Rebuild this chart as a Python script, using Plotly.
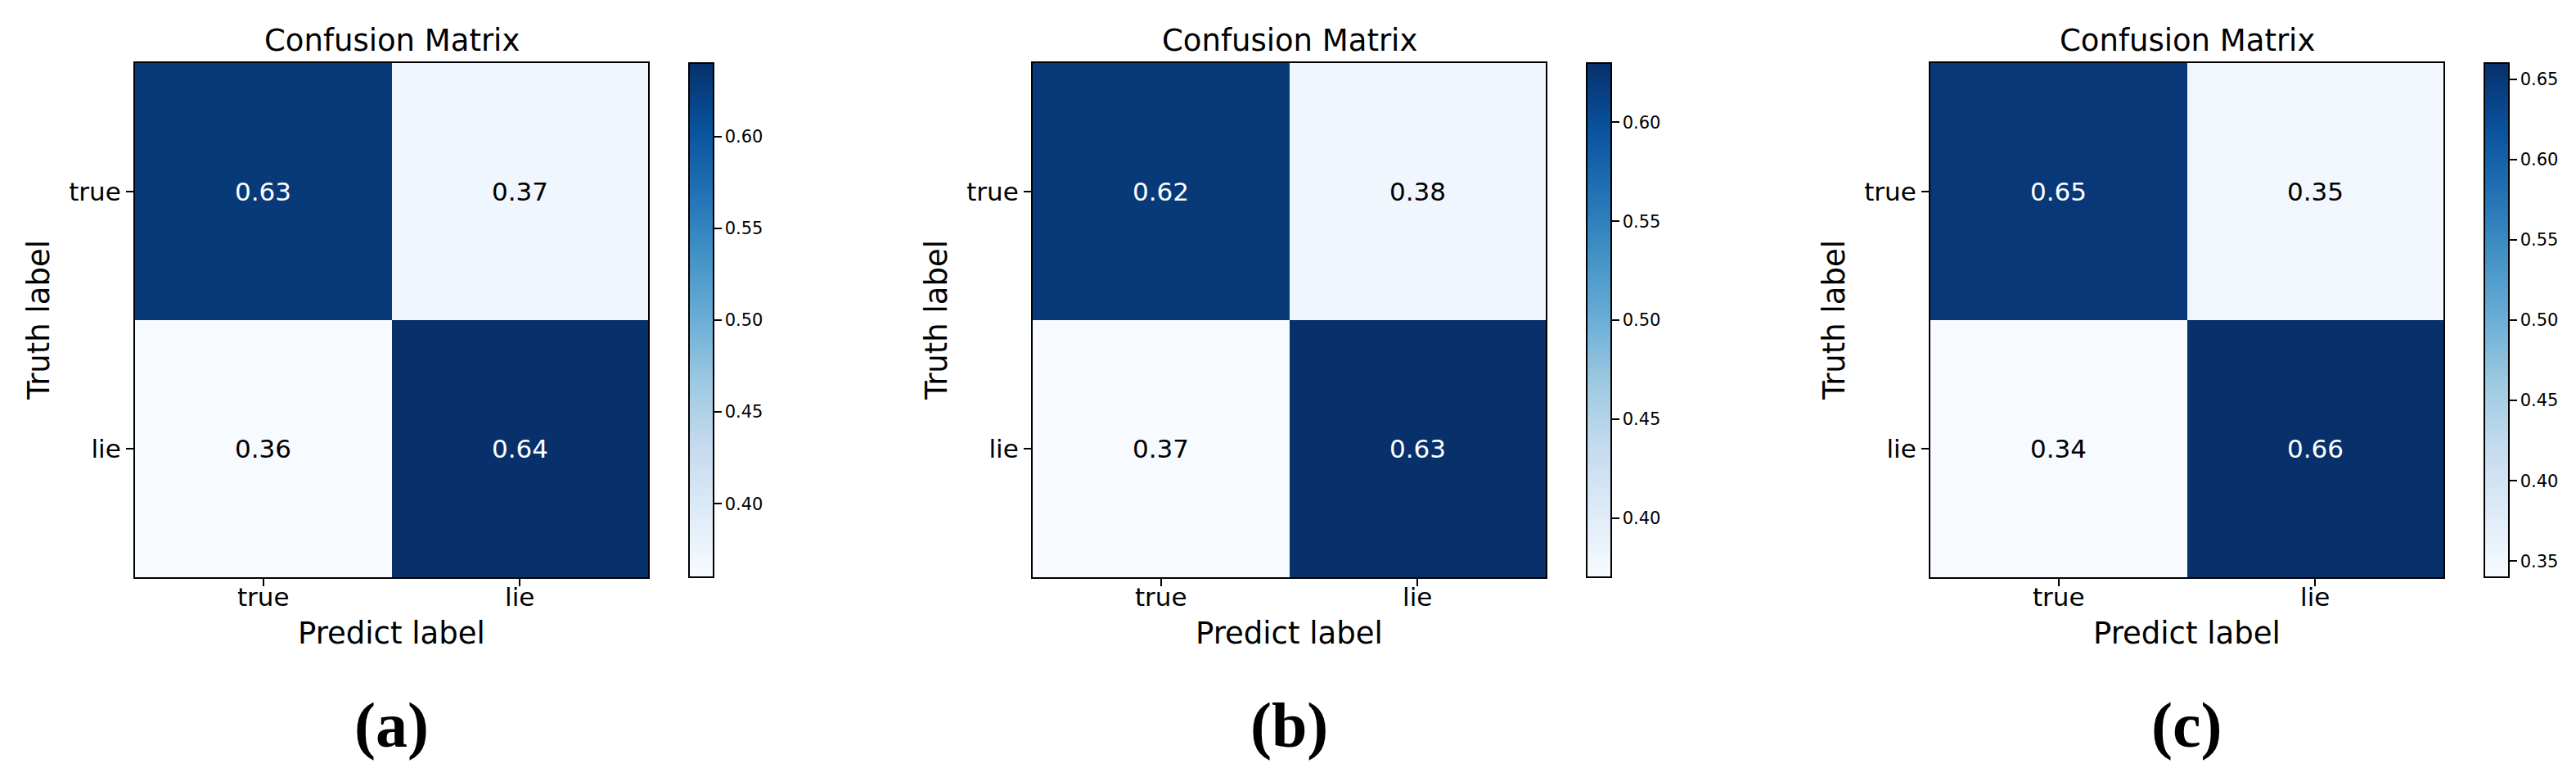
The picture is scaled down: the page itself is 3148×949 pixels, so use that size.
import plotly.graph_objects as go

# class labels and confusion matrices for the three runs
labels = ["true", "lie"]
panel_tags = ["(a)", "(b)", "(c)"]
cm_a = [[0.63, 0.37], [0.36, 0.64]]
cm_b = [[0.62, 0.38], [0.37, 0.63]]
cm_c = [[0.65, 0.35], [0.34, 0.66]]
matrices = [cm_a, cm_b, cm_c]

# matplotlib "Blues"
blues = ["#f7fbff", "#deebf7", "#c6dbef", "#9ecae1", "#6baed6",
         "#4292c6", "#2171b5", "#08519c", "#08306b"]
scale = [[i / (len(blues) - 1), c] for i, c in enumerate(blues)]

W, H = 3148, 949
lefts = [157, 1254, 2351]
side = 627
top, bottom = 69, 697
cb_gap = 50
font = "DejaVu Sans"


def px(v):
    return v / W


def py(v):
    return 1 - v / H


fig = go.Figure()
annotations = []

for i, cm in enumerate(matrices):
    n = "" if i == 0 else str(i + 1)
    lo = min(min(r) for r in cm)
    hi = max(max(r) for r in cm)
    x0 = lefts[i]
    fig.add_trace(go.Heatmap(
        z=cm, x=[0, 1], y=[0, 1], xaxis="x" + n, yaxis="y" + n,
        colorscale=scale, zmin=lo, zmax=hi, hoverinfo="skip",
        colorbar=dict(
            x=px(x0 + side + cb_gap), xanchor="left", xpad=0,
            y=py(bottom), yanchor="bottom", ypad=0,
            len=(bottom - top) / H, lenmode="fraction",
            thickness=30, outlinewidth=2, outlinecolor="black",
            tick0=0, dtick=0.05, tickformat=".2f",
            ticks="outside", ticklen=9, tickwidth=2, tickcolor="black",
            tickfont=dict(family=font, size=21, color="black"),
        ),
    ))
    fig.update_layout(**{
        "xaxis" + n: dict(
            domain=[px(x0), px(x0 + side)], anchor="y" + n,
            range=[-0.5, 1.5], tickvals=[0, 1], ticktext=labels,
            ticks="outside", ticklen=9, tickwidth=2, tickcolor="black",
            ticklabelstandoff=-13,
            showline=True, linewidth=2, linecolor="black", mirror=True,
            showgrid=False, zeroline=False,
            tickfont=dict(family=font, size=31, color="black"),
        ),
        "yaxis" + n: dict(
            domain=[py(bottom), py(top)], anchor="x" + n,
            range=[1.5, -0.5], tickvals=[0, 1], ticktext=labels,
            ticks="outside", ticklen=9, tickwidth=2, tickcolor="black",
            showline=True, linewidth=2, linecolor="black", mirror=True,
            showgrid=False, zeroline=False,
            tickfont=dict(family=font, size=31, color="black"),
        ),
    })
    thresh = (lo + hi) / 2
    for r in range(2):
        for c in range(2):
            v = cm[r][c]
            annotations.append(dict(
                x=c, y=r, xref="x" + n, yref="y" + n, text=f"{v:.2f}",
                showarrow=False,
                font=dict(family=font, size=31,
                          color="white" if v > thresh else "black"),
            ))
    cx = px(x0 + side / 2)
    common = dict(xref="paper", yref="paper", showarrow=False,
                  xanchor="center", yanchor="middle")
    annotations += [
        dict(x=cx, y=py(41), text="Confusion Matrix",
             font=dict(family=font, size=37, color="black"), **common),
        dict(x=cx, y=py(765), text="Predict label",
             font=dict(family=font, size=37, color="black"), **common),
        dict(x=px(x0 - 117), y=py((top + bottom) / 2), text="Truth label",
             textangle=-90,
             font=dict(family=font, size=37, color="black"), **common),
        dict(x=cx, y=py(877), text="<b>" + panel_tags[i] + "</b>",
             font=dict(family="Liberation Serif", size=78, color="black"),
             **common),
    ]

fig.update_layout(
    width=W, height=H, margin=dict(l=0, r=0, t=0, b=0),
    paper_bgcolor="white", plot_bgcolor="white",
    annotations=annotations, showlegend=False,
)

fig.write_html("out.html")
